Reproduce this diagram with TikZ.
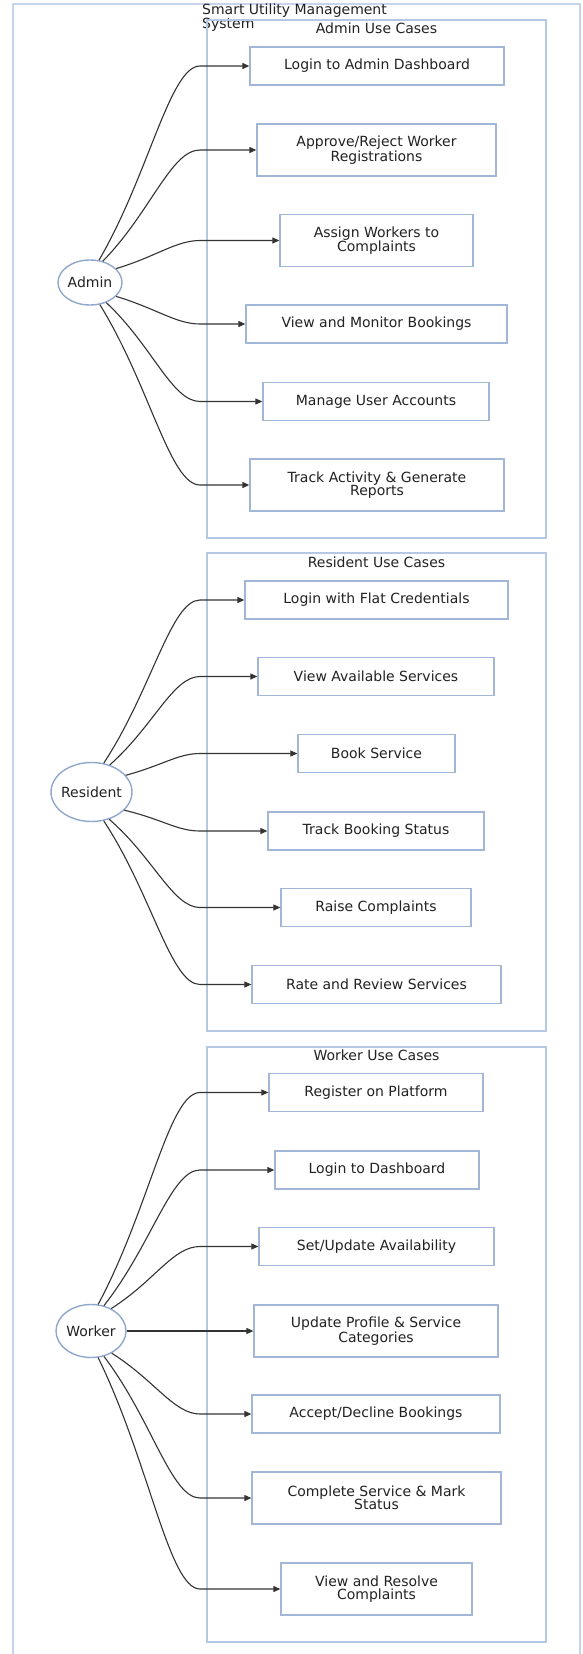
\documentclass[tikz,border=0pt]{standalone}
\usepackage{fontspec}
\setmainfont{DejaVu Sans}
\usetikzlibrary{shapes.geometric,arrows.meta}
\definecolor{ink}{HTML}{333333}
\definecolor{label}{HTML}{222222}
\definecolor{boxline}{HTML}{A2B7D8}
\definecolor{actorline}{HTML}{8FA7CD}
\definecolor{groupline}{HTML}{B5C8E3}
\definecolor{outerline}{HTML}{C6D5EB}
\newcommand{\ucfont}{\fontsize{14}{13.5}\selectfont}
\tikzset{
  uc/.style={draw=boxline, line width=1.3pt, fill=white, text=label, align=center,
    inner sep=0pt, minimum height=38pt, font=\ucfont},
  twoline/.style={minimum height=52pt},
  actor/.style={ellipse, draw=actorline, line width=1.4pt, fill=white, inner sep=0pt},
  actorlabel/.style={text=label, font=\ucfont},
  grp/.style={draw=groupline, line width=1.8pt},
  grptitle/.style={text=label, font=\ucfont, inner sep=0pt},
  outer/.style={draw=outerline, line width=2.6pt},
  flow/.style={draw=ink, line width=1.1pt, -{Triangle[length=7pt,width=6pt]}},
}
\begin{document}
\begin{tikzpicture}[x=1pt,y=1pt]
\useasboundingbox (0,0) rectangle (582,-1654);
\fill[white] (0,0) rectangle (582,-1654);

% system boundary and its title
\draw[outer] (13,-1670) -- (13,-4) -- (580,-4) -- (580,-1670);
\node[text=label, font=\ucfont, align=left, anchor=north west, inner sep=0pt]
  (sys) at (202,-4) {Smart Utility Management\\System};

% use-case groups
\draw[grp] (207,-20) rectangle (546,-538);
\draw[grp] (207,-553) rectangle (546,-1031);
\draw[grp] (207,-1047) rectangle (546,-1642);
\node[grptitle] (tA) at (376.5,-28) {Admin Use Cases};
\node[grptitle] (tR) at (376.5,-562) {Resident Use Cases};
\node[grptitle] (tW) at (376.5,-1055) {Worker Use Cases};

% curves reach the horizontal at this x before entering a use case
\coordinate (xm) at (200,0);

% actors
\node[actor, minimum width=64pt, minimum height=45pt, label={[actorlabel]center:Admin}] (admin) at (90,-282.5) {};
\node[actor, minimum width=81pt, minimum height=59pt, label={[actorlabel]center:Resident}] (res) at (91.5,-792) {};
\node[actor, minimum width=70pt, minimum height=53pt, label={[actorlabel]center:Worker}] (wrk) at (91,-1331) {};

% admin use cases
\node[uc, minimum width=254pt] (a1) at (377,-66) {Login to Admin Dashboard};
\node[uc, twoline, minimum width=239pt] (a2) at (376.5,-150) {Approve/Reject Worker\\Registrations};
\node[uc, twoline, minimum width=193pt] (a3) at (376.5,-240.5) {Assign Workers to\\Complaints};
\node[uc, minimum width=261pt] (a4) at (376.5,-324) {View and Monitor Bookings};
\node[uc, minimum width=226pt] (a5) at (376,-401.5) {Manage User Accounts};
\node[uc, twoline, minimum width=254pt] (a6) at (377,-485) {Track Activity \& Generate\\Reports};

% resident use cases
\node[uc, minimum width=263pt] (r1) at (376.5,-600) {Login with Flat Credentials};
\node[uc, minimum width=236pt] (r2) at (376,-676.5) {View Available Services};
\node[uc, minimum width=157pt] (r3) at (376.5,-753.5) {Book Service};
\node[uc, minimum width=216pt] (r4) at (376,-831) {Track Booking Status};
\node[uc, minimum width=190pt] (r5) at (376,-907.5) {Raise Complaints};
\node[uc, minimum width=249pt] (r6) at (376.5,-984.5) {Rate and Review Services};

% worker use cases
\node[uc, minimum width=214pt] (w1) at (376,-1092.5) {Register on Platform};
\node[uc, minimum width=204pt] (w2) at (377,-1170) {Login to Dashboard};
\node[uc, minimum width=235pt] (w3) at (376.5,-1246.5) {Set/Update Availability};
\node[uc, twoline, minimum width=244pt] (w4) at (376,-1331) {Update Profile \& Service\\Categories};
\node[uc, minimum width=248pt] (w5) at (376,-1414) {Accept/Decline Bookings};
\node[uc, twoline, minimum width=249pt] (w6) at (376.5,-1498) {Complete Service \& Mark\\Status};
\node[uc, twoline, minimum width=191pt] (w7) at (376.5,-1589) {View and Resolve\\Complaints};

% associations: admin
\draw[flow] (admin.68)  .. controls +(50,86)  and +(-30,0) .. (a1.west -| xm) -- (a1.west);
\draw[flow] (admin.59)  .. controls +(48,49)  and +(-29,0) .. (a2.west -| xm) -- (a2.west);
\draw[flow] (admin.28)  .. controls +(40,12)  and +(-24,0) .. (a3.west -| xm) -- (a3.west);
\draw[flow] (admin.-28) .. controls +(40,-12) and +(-24,0) .. (a4.west -| xm) -- (a4.west);
\draw[flow] (admin.-51) .. controls +(46,-43) and +(-28,0) .. (a5.west -| xm) -- (a5.west);
\draw[flow] (admin.-66) .. controls +(50,-81) and +(-30,0) .. (a6.west -| xm) -- (a6.west);

% associations: resident
\draw[flow] (res.67)  .. controls +(48,73)  and +(-29,0) .. (r1.west -| xm) -- (r1.west);
\draw[flow] (res.56)  .. controls +(44,39)  and +(-27,0) .. (r2.west -| xm) -- (r2.west);
\draw[flow] (res.26)  .. controls +(37,10)  and +(-22,0) .. (r3.west -| xm) -- (r3.west);
\draw[flow] (res.-29) .. controls +(38,-9)  and +(-23,0) .. (r4.west -| xm) -- (r4.west);
\draw[flow] (res.-57) .. controls +(44,-38) and +(-27,0) .. (r5.west -| xm) -- (r5.west);
\draw[flow] (res.-67) .. controls +(48,-73) and +(-29,0) .. (r6.west -| xm) -- (r6.west);

% associations: worker
\draw[flow] (wrk.75)  .. controls +(51,95)   and +(-31,0) .. (w1.west -| xm) -- (w1.west);
\draw[flow] (wrk.63)  .. controls +(48,61)   and +(-29,0) .. (w2.west -| xm) -- (w2.west);
\draw[flow] (wrk.48)  .. controls +(44,28)   and +(-27,0) .. (w3.west -| xm) -- (w3.west);
\draw[flow] (wrk.east) -- (w4.west);
\draw[flow] (wrk.-47) .. controls +(43,-27)  and +(-26,0) .. (w5.west -| xm) -- (w5.west);
\draw[flow] (wrk.-63) .. controls +(48,-63)  and +(-29,0) .. (w6.west -| xm) -- (w6.west);
\draw[flow] (wrk.-75) .. controls +(51,-104) and +(-31,0) .. (w7.west -| xm) -- (w7.west);
\end{tikzpicture}
\end{document}
